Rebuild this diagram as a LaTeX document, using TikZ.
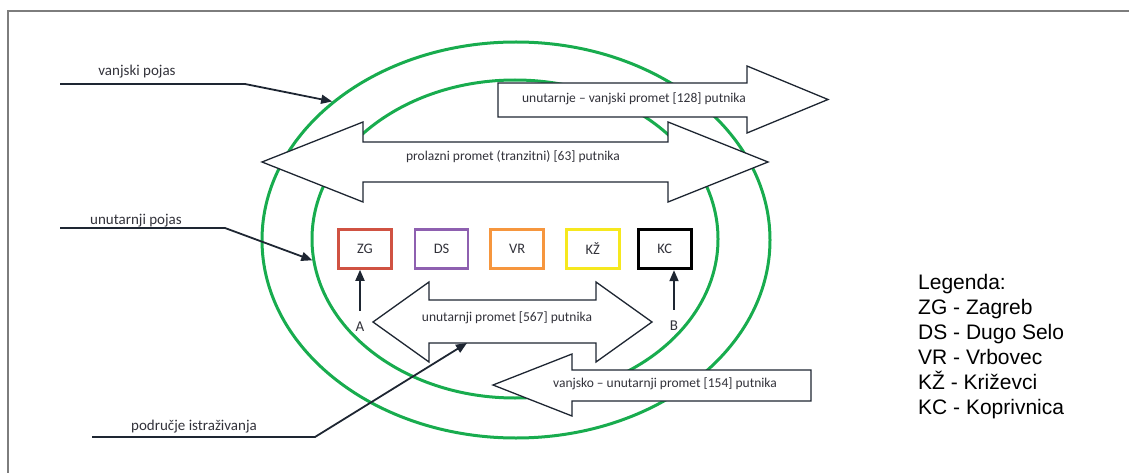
\documentclass[tikz,border=0pt]{standalone}
\usepackage{fontspec}
\setmainfont{Carlito}
\newfontfamily\legendfont{Liberation Sans}
\usetikzlibrary{positioning,shapes.geometric,arrows.meta}
\definecolor{zonegreen}{RGB}{24,172,78}
\definecolor{flowline}{RGB}{30,38,50}
\definecolor{txtgray}{RGB}{50,50,58}
\definecolor{framegray}{RGB}{125,125,125}
\definecolor{zgred}{RGB}{208,82,66}
\definecolor{dspurple}{RGB}{142,96,176}
\definecolor{vrorange}{RGB}{246,150,62}
\definecolor{kzyellow}{RGB}{246,232,30}
\tikzset{zone/.style={draw=zonegreen,line width=3pt,ellipse,inner sep=0pt}}
\tikzset{flow/.style={draw=flowline,fill=white,line width=1.3pt,line join=miter}}
\tikzset{flowtext/.style={text=txtgray,font=\fontsize{13.5}{16}\selectfont,inner sep=1pt}}
\tikzset{station/.style={draw,line width=2.6pt,minimum width=53pt,minimum height=39pt,text=txtgray,font=\fontsize{14.5}{16}\selectfont}}
\tikzset{leader/.style={draw=flowline,line width=1.8pt,-{Triangle[length=11pt,width=9pt]}}}
\tikzset{tag/.style={text=txtgray,font=\fontsize{15}{18}\selectfont,inner sep=1pt}}

\begin{document}
\begin{tikzpicture}[x=1pt,y=-1pt]
        \useasboundingbox (0,0) rectangle (1129,473);
        \draw[framegray,line width=1.5pt] (1129,11) -- (8,11) -- (8,473);
        % zones
        \node[zone,minimum width=508pt,minimum height=396pt] (outer) at (516,240) {};
        \node[zone,minimum width=406pt,minimum height=318pt] (inner) at (515,239) {};
        % flows
        \draw[flow] (498,83) -- (747,83) -- (747,66) -- (828,99.5) -- (747,133) -- (747,117) -- (498,117) -- cycle;
        \node[flowtext] (outflow) at (634,99) {unutarnje – vanjski promet [128] putnika};
        \draw[flow] (262,162) -- (363,122) -- (363,142) -- (668,142) -- (668,122) -- (768,162)
            -- (668,202) -- (668,182) -- (363,182) -- (363,202) -- cycle;
        \node[flowtext] (transit) at (513,157) {prolazni promet (tranzitni) [63] putnika};
        \draw[flow] (373,322) -- (429,282) -- (429,300) -- (596,300) -- (596,282) -- (652,322)
            -- (596,362) -- (596,343) -- (429,343) -- (429,362) -- cycle;
        \node[flowtext] (internal) at (507,318) {unutarnji promet [567] putnika};
        \draw[flow] (493,385) -- (572,354) -- (572,370) -- (811,370) -- (811,401) -- (572,401) -- (572,416) -- cycle;
        \node[flowtext] (inflow) at (665,384) {vanjsko – unutarnji promet [154] putnika};
        % stations
        \node[station,draw=zgred] (zg) at (365,249) {ZG};
        \node[station,draw=dspurple,right=21pt of zg] (ds) {DS};
        \node[station,draw=vrorange,right=20pt of ds] (vr) {VR};
        \node[station,draw=kzyellow,right=20pt of vr] (kz) {KŽ};
        \node[station,draw=black,line width=3.4pt,right=16pt of kz] (kc) {KC};
        \node[tag] (A) at (360,327) {A};
            \draw[leader,shorten <=10pt] (A) -- (A |- zg.south);
        \node[tag] (B) at (674,326) {B};
            \draw[leader,shorten <=10pt] (B) -- (B |- kc.south);
        % leaders
        \node[tag] (vptext) at (137,72) {vanjski pojas};
        \coordinate (vp) at (60,84);
        \coordinate (vpbend) at (245,84);
            \draw[leader] (vp) -- (vpbend) -- (outer.143);
        \node[tag] (uptext) at (136,221) {unutarnji pojas};
        \coordinate (up) at (60,228);
        \coordinate (upbend) at (225,228);
            \draw[leader] (up) -- (upbend) -- (inner.186);
        \node[tag] (pitext) at (194,427) {područje istraživanja};
        \coordinate (pi) at (92,437);
        \coordinate (pibend) at (315,437);
        \coordinate (study) at (467,343);
            \draw[leader] (pi) -- (pibend) -- (study);
        % legend
        \node[anchor=north west,inner sep=0pt,align=left,font=\legendfont\fontsize{21}{25}\selectfont] (legend) at (918,274)
            {Legenda:\\ZG - Zagreb\\DS - Dugo Selo\\VR - Vrbovec\\KŽ - Križevci\\KC - Koprivnica};
\end{tikzpicture}
\end{document}
